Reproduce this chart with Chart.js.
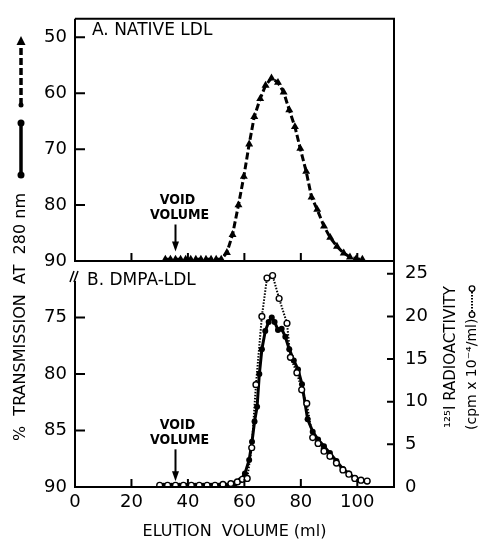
<!DOCTYPE html>
<html><head><meta charset="utf-8">
<script src="https://cdn.jsdelivr.net/npm/chart.js@4.4.1/dist/chart.umd.min.js"></script>
<style>
html,body{margin:0;padding:0;background:#fff;}
#wrap{position:relative;width:482px;height:539px;background:#fff;}
canvas{position:absolute;left:0;top:0;}
</style></head><body>
<div id="wrap"><canvas id="cA" width="482" height="539"></canvas><canvas id="cB" width="482" height="539"></canvas></div>
<script>
// ---- data ----
const xTicks = [0, 20, 40, 60, 80, 100];
const yTicksA = [50, 60, 70, 80, 90];
const yTicksBLeft = [75, 80, 85, 90];
const yTicksBRight = [0, 5, 10, 15, 20, 25];
const voidVolume = 35.6;

// A. native LDL : % transmission at 280 nm (triangles)
const nativeX = [32, 33.8, 35.6, 37.4, 39.2, 41, 42.8, 44.6, 46.4, 48.2, 50, 51.8,
  53.8, 55.8, 57.9, 59.8, 61.7, 63.5, 65.6, 67.5, 69.6, 71.9, 73.9, 75.9, 77.9, 79.8,
  81.9, 83.8, 85.8, 88.2, 90.4, 92.8, 95.2, 97.4, 99.6, 101.8];
const nativeT = [89.7, 89.7, 89.7, 89.7, 89.7, 89.7, 89.7, 89.7, 89.7, 89.7, 89.7, 89.7,
  88.5, 85.3, 80.0, 74.9, 69.1, 64.2, 61.0, 58.6, 57.3, 58.1, 59.8, 63.0, 66.0, 69.9,
  74.0, 78.6, 80.8, 83.8, 85.8, 87.4, 88.6, 89.3, 89.6, 89.7];

// B. DMPA-LDL : % transmission at 280 nm (filled circles)
const dmpaX = [31.4, 34.2, 37, 39.8, 42.6, 45.4, 48.2, 51, 53.8, 56.6,
  58.6, 60.2, 61.7, 62.7, 63.6, 64.5, 65.3, 66.2, 67.4, 68.6, 69.7, 70.7, 71.9, 73.2,
  74.5, 75.9, 77.5, 79.0, 80.4, 82.4,
  84.2, 86.1, 88.2, 90.3, 92.6, 94.9, 97.0, 99.1, 101.3, 103.5];
const dmpaT = [89.9, 89.9, 89.9, 89.9, 89.9, 89.9, 89.9, 89.9, 89.9, 89.7,
  89.4, 88.8, 87.6, 86.0, 84.2, 82.9, 80.0, 77.8, 76.2, 75.4, 75.0, 75.4, 76.1, 76.0,
  76.7, 77.8, 78.8, 79.6, 80.9, 84.0,
  85.1, 85.8, 86.4, 87.0, 87.7, 88.4, 88.8, 89.2, 89.4, 89.5];

// B. 125I radioactivity (cpm x 10^-4/ml) (open circles)
const radioX = [30, 32.8, 35.6, 38.4, 41.2, 44, 46.8, 49.6, 52.4, 55.2,
  57.5, 59.3, 61.0, 62.6, 64.1, 66.2, 68.0, 70.0, 72.3, 75.1, 76.3, 78.6, 80.3, 82.1,
  84.2, 86.1, 88.2, 90.3, 92.6, 94.9, 97.0, 99.1, 101.3, 103.5];
const radioC = [0.2, 0.2, 0.2, 0.2, 0.2, 0.2, 0.2, 0.2, 0.3, 0.4,
  0.6, 0.9, 1.0, 4.6, 12.0, 20.0, 24.5, 24.8, 22.1, 19.2, 15.2, 13.4, 11.4, 9.8,
  5.8, 5.1, 4.2, 3.6, 2.8, 2.0, 1.5, 1.0, 0.8, 0.7];

// ---- helpers ----
const FONT = '"DejaVu Sans", sans-serif';
Chart.defaults.font.family = FONT;
Chart.defaults.color = '#000';
const pts = (xs, ys) => xs.map((x, i) => ({x: x, y: ys[i]}));
const setTicks = arr => (s => { s.ticks = arr.map(v => ({value: v})); });
const noGrid = { display: false, drawTicks: false, tickLength: 0 };

function drawArrow(ctx, x, y0, y1) {
  ctx.beginPath(); ctx.lineWidth = 2; ctx.moveTo(x, y0); ctx.lineTo(x, y1 - 8); ctx.stroke();
  ctx.beginPath(); ctx.moveTo(x - 3.5, y1 - 10); ctx.lineTo(x + 3.5, y1 - 10); ctx.lineTo(x, y1); ctx.closePath(); ctx.fill();
}
function drawVoid(ctx, x, tipY, len) {
  ctx.save();
  ctx.fillStyle = '#000'; ctx.strokeStyle = '#000';
  ctx.font = '600 14px "DejaVu Sans Condensed", "DejaVu Sans", sans-serif';
  ctx.textAlign = 'center'; ctx.textBaseline = 'middle';
  const top = tipY - len;
  ctx.fillText('VOID', x + 2, top - 24);
  ctx.fillText('VOLUME', x + 4, top - 9);
  drawArrow(ctx, x, top, tipY);
  ctx.restore();
}

// ---- plugins ----
const frameA = {
  id: 'frameA',
  afterDraw(chart) {
    const {ctx, chartArea: {left, right, top, bottom}, scales: {x, y}} = chart;
    ctx.save();
    ctx.strokeStyle = '#000'; ctx.lineWidth = 2;
    ctx.beginPath();
    ctx.moveTo(left, top); ctx.lineTo(right, top); ctx.lineTo(right, bottom);
    ctx.lineTo(left, bottom); ctx.lineTo(left, top);
    yTicksA.forEach(v => { const py = y.getPixelForValue(v); ctx.moveTo(left, py); ctx.lineTo(left + 10, py); });
    xTicks.forEach(v => { if (v === 0) return; const px = x.getPixelForValue(v); ctx.moveTo(px, bottom); ctx.lineTo(px, bottom - 8); });
    ctx.stroke();
    ctx.fillStyle = '#000';
    ctx.font = '17px ' + FONT;
    ctx.textAlign = 'left'; ctx.textBaseline = 'middle';
    ctx.fillText('A. NATIVE LDL', 92, 31);
    drawVoid(ctx, x.getPixelForValue(voidVolume), y.getPixelForValue(88.3), 27);
    ctx.restore();
  }
};

const frameB = {
  id: 'frameB',
  afterDraw(chart) {
    const {ctx, chartArea: {left, right, top, bottom}, scales: {x, yL, yR}} = chart;
    ctx.save();
    ctx.strokeStyle = '#000'; ctx.fillStyle = '#000'; ctx.lineWidth = 2;
    ctx.beginPath();
    ctx.moveTo(left, top + 20); ctx.lineTo(left, bottom); ctx.lineTo(right, bottom); ctx.lineTo(right, top);
    yTicksBLeft.forEach(v => { const py = yL.getPixelForValue(v); ctx.moveTo(left, py); ctx.lineTo(left + 10, py); });
    yTicksBRight.forEach(v => { const py = yR.getPixelForValue(v); ctx.moveTo(right, py); ctx.lineTo(right - 7, py); });
    xTicks.forEach(v => { if (v === 0) return; const px = x.getPixelForValue(v); ctx.moveTo(px, bottom); ctx.lineTo(px, bottom - 8); });
    ctx.stroke();
    // axis break mark
    ctx.lineWidth = 1.5;
    ctx.beginPath();
    ctx.moveTo(left - 5, top + 21); ctx.lineTo(left - 1, top + 10);
    ctx.moveTo(left - 1, top + 21); ctx.lineTo(left + 3, top + 10);
    ctx.stroke();
    // panel label
    ctx.font = '17px ' + FONT;
    ctx.textAlign = 'left'; ctx.textBaseline = 'middle';
    ctx.fillText('B. DMPA-LDL', 87, 281);
    drawVoid(ctx, x.getPixelForValue(voidVolume), yL.getPixelForValue(89.5), 32);

    // left axis title (spans both panels)
    ctx.save();
    ctx.font = '16px ' + FONT;
    ctx.translate(21, 441);
    ctx.rotate(-Math.PI / 2);
    ctx.textAlign = 'left'; ctx.textBaseline = 'middle';
    const t = '%  TRANSMISSION  AT  280 nm';
    ctx.fillText(t, 0, 0);
    const w = ctx.measureText(t).width;
    // filled-circle key
    let s = w + 18;
    ctx.lineWidth = 3.5;
    ctx.beginPath(); ctx.moveTo(s, 0); ctx.lineTo(s + 52, 0); ctx.stroke();
    [s, s + 52].forEach(p => { ctx.beginPath(); ctx.arc(p, 0, 3.5, 0, Math.PI * 2); ctx.fill(); });
    // triangle key
    s = s + 70;
    ctx.setLineDash([7, 3]);
    ctx.beginPath(); ctx.moveTo(s, 0); ctx.lineTo(s + 64, 0); ctx.stroke();
    ctx.setLineDash([]);
    ctx.beginPath(); ctx.arc(s, 0, 2.5, 0, Math.PI * 2); ctx.fill();
    ctx.restore();
    // triangle tip of the key (page orientation)
    const tipY = 441 - (w + 18 + 70 + 64);
    ctx.beginPath(); ctx.moveTo(21, tipY - 5); ctx.lineTo(25.5, tipY + 4); ctx.lineTo(16.5, tipY + 4); ctx.closePath(); ctx.fill();

    // right axis title
    ctx.save();
    ctx.translate(451, 428);
    ctx.rotate(-Math.PI / 2);
    ctx.textAlign = 'left'; ctx.textBaseline = 'middle';
    ctx.font = '15px ' + FONT;
    ctx.fillText('\u00B9\u00B2\u2075I RADIOACTIVITY', 0, 0);
    ctx.font = '14px ' + FONT;
    const t2 = '(cpm x 10\u207B\u2074/ml)';
    ctx.fillText(t2, -2, 21);
    const w2 = ctx.measureText(t2).width;
    const a = w2 + 2, b = w2 + 28;
    ctx.lineWidth = 2; ctx.setLineDash([1.5, 1.5]);
    ctx.beginPath(); ctx.moveTo(a, 21); ctx.lineTo(b, 21); ctx.stroke();
    ctx.setLineDash([]); ctx.lineWidth = 1.3; ctx.fillStyle = '#fff';
    [a, b].forEach(p => { ctx.beginPath(); ctx.arc(p, 21, 2.8, 0, Math.PI * 2); ctx.fill(); ctx.stroke(); });
    ctx.restore();
    ctx.restore();
  }
};

// ---- chart A ----
new Chart(document.getElementById('cA'), {
  type: 'line',
  data: { datasets: [{
    data: pts(nativeX, nativeT),
    borderColor: '#000', backgroundColor: '#000', borderWidth: 3, borderDash: [7, 3],
    pointStyle: 'triangle', pointRadius: 4.6, pointBackgroundColor: '#000', pointBorderWidth: 0,
    tension: 0
  }]},
  options: {
    responsive: false, animation: false, devicePixelRatio: 1,
    layout: { padding: { top: 14, bottom: 278, left: 0, right: 88 } },
    plugins: { legend: { display: false }, tooltip: { enabled: false } },
    scales: {
      x: { type: 'linear', min: 0, max: 113, display: false },
      y: { type: 'linear', min: 46.7, max: 90, reverse: true,
           afterBuildTicks: setTicks(yTicksA), afterFit: s => { s.width = 75; },
           grid: noGrid, border: { display: false },
           ticks: { padding: 8, font: { size: 18 }, color: '#000' } }
    }
  },
  plugins: [frameA]
});

// ---- chart B ----
new Chart(document.getElementById('cB'), {
  type: 'line',
  data: { datasets: [
    { data: pts(radioX, radioC), yAxisID: 'yR',
      borderColor: '#000', borderWidth: 2, borderDash: [1.5, 1.5],
      pointStyle: 'circle', pointRadius: 2.9, pointBackgroundColor: '#fff', pointBorderColor: '#000', pointBorderWidth: 1.4,
      tension: 0 },
    { data: pts(dmpaX, dmpaT), yAxisID: 'yL',
      borderColor: '#000', borderWidth: 3,
      pointStyle: 'circle', pointRadius: 3, pointBackgroundColor: '#000', pointBorderWidth: 0,
      tension: 0 }
  ]},
  options: {
    responsive: false, animation: false, devicePixelRatio: 1,
    layout: { padding: { top: 261, bottom: 0, left: 0, right: 0 } },
    plugins: { legend: { display: false }, tooltip: { enabled: false } },
    scales: {
      x: { type: 'linear', min: 0, max: 113, position: 'bottom',
           afterBuildTicks: setTicks(xTicks), afterFit: s => { s.height = 52; },
           grid: noGrid, border: { display: false },
           ticks: { padding: 5, font: { size: 18 }, color: '#000', maxRotation: 0 },
           title: { display: true, text: 'ELUTION  VOLUME (ml)', font: { size: 16 }, color: '#000', padding: { top: 0, bottom: -2 } } },
      yL: { type: 'linear', position: 'left', min: 70, max: 90, reverse: true,
            afterBuildTicks: setTicks(yTicksBLeft), afterFit: s => { s.width = 75; },
            grid: noGrid, border: { display: false },
            ticks: { padding: 8, font: { size: 18 }, color: '#000' } },
      yR: { type: 'linear', position: 'right', min: 0, max: 26.5,
            afterBuildTicks: setTicks(yTicksBRight), afterFit: s => { s.width = 88; },
            grid: noGrid, border: { display: false },
            ticks: { padding: 11, font: { size: 18 }, color: '#000' } }
    }
  },
  plugins: [frameB]
});
</script>
</body></html>
